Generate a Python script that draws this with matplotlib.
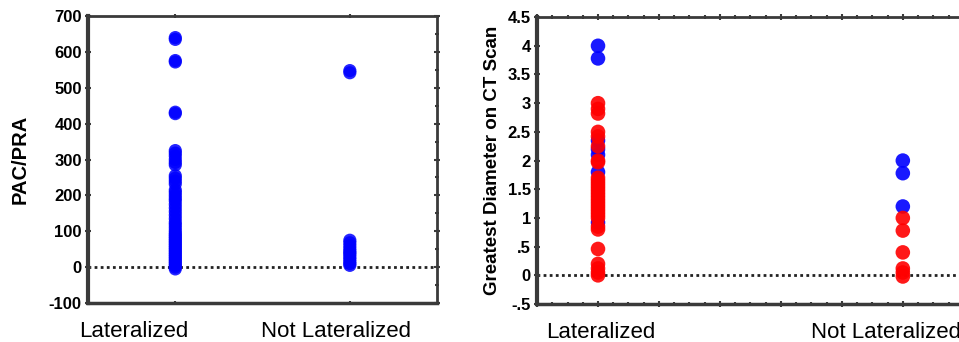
import numpy as np
import matplotlib
matplotlib.use("Agg")
import matplotlib.pyplot as plt
from matplotlib.ticker import MultipleLocator, FixedLocator, FixedFormatter
from matplotlib.transforms import offset_copy

plt.rcParams['font.family'] = ['Liberation Sans', 'DejaVu Sans']
plt.rcParams['axes.unicode_minus'] = False

categories = ["Lateralized", "Not Lateralized"]

# left panel: PAC/PRA
pac_lat = [640, 635, 576, 572, 432, 428, 325, 318, 310, 300, 292, 285, 255, 248, 240, 232,
           215, 208, 200, 192, 185, 175, 165, 155, 145, 135, 125, 118, 110, 102, 95, 90,
           85, 80, 75, 70, 65, 60, 55, 50, 45, 40, 35, 30, 25, 20, 15, 10, 5, 0, -5]
pac_notlat = [548, 542, 75, 68, 60, 52, 45, 40, 35, 28, 22, 15, 10, 5]

# right panel: greatest diameter, blue and red groups
diam_lat_blue = [4.0, 3.78, 2.35, 2.2, 2.1, 1.8, 0.92]
diam_lat_red = [3.0, 2.9, 2.82, 2.5, 2.42, 2.25, 2.0, 1.97, 1.7, 1.65, 1.6, 1.55, 1.5,
                1.45, 1.4, 1.35, 1.3, 1.25, 1.2, 1.15, 1.1, 1.05, 1.0, 0.85, 0.8, 0.46,
                0.2, 0.12, 0.05, 0.0]
diam_notlat_blue = [2.0, 1.78, 1.2]
diam_notlat_red = [1.0, 0.78, 0.4, 0.12, 0.05, -0.02]

right_ticks = [-0.5, 0, 0.5, 1, 1.5, 2, 2.5, 3, 3.5, 4, 4.5]
right_ticklabels = ["-.5", "0", ".5", "1", "1.5", "2", "2.5", "3", "3.5", "4", "4.5"]

BLUE = "#0000ff"
RED = "#ff0000"
SPINE = "#3a3a3a"

fig = plt.figure(figsize=(9.59, 3.42), dpi=100)
ax1 = fig.add_axes([0.0918, 0.114, 0.364, 0.839])
ax2 = fig.add_axes([0.560, 0.111, 0.445, 0.839])


def style_axes(ax):
    for side in ["left", "bottom", "top", "right"]:
        ax.spines[side].set_color(SPINE)
        ax.spines[side].set_linewidth(2)
    ax.spines["left"].set_linewidth(3)
    ax.spines["bottom"].set_linewidth(2.5)
    ax.tick_params(which="both", direction="inout", color=SPINE, width=1.5,
                   top=True, right=True, labeltop=False, labelright=False)
    ax.tick_params(which="major", length=5)
    ax.tick_params(which="minor", length=3)
    ax.tick_params(axis="y", labelsize=12, pad=2)
    for t in ax.get_yticklabels():
        t.set_fontweight("bold")
    ax.axhline(0, color="#222222", lw=2, ls=(0, (1, 1.2)), zorder=1)


# ---- left panel ----
ax1.scatter(np.full(len(pac_lat), 1), pac_lat, s=90, color=BLUE, alpha=0.85,
            edgecolors="none", zorder=3)
ax1.scatter(np.full(len(pac_notlat), 2), pac_notlat, s=90, color=BLUE, alpha=0.85,
            edgecolors="none", zorder=3)
ax1.set_xlim(0.5, 2.5)
ax1.set_ylim(-100, 700)
ax1.yaxis.set_major_locator(MultipleLocator(100))
ax1.yaxis.set_minor_locator(MultipleLocator(50))
ax1.set_xticks([1, 2])
ax1.set_xticklabels([])
ax1.tick_params(axis="y", which="minor", left=False)
style_axes(ax1)
ax1.tick_params(axis="x", length=3)
ax1.set_ylabel("PAC/PRA", fontsize=14.5, fontweight="bold", labelpad=14)
for lab, xc, dx in zip(categories, [1, 2], [-30, -10]):
    tr = offset_copy(ax1.get_xaxis_transform(), fig=fig, x=dx, y=0, units="points")
    ax1.text(xc, -0.1, lab, transform=tr, ha="center", va="center", fontsize=16)

# ---- right panel ----
ax2.scatter(np.full(len(diam_lat_blue), 1), diam_lat_blue, s=110, color=BLUE,
            alpha=0.9, edgecolors="none", zorder=3)
ax2.scatter(np.full(len(diam_notlat_blue), 2), diam_notlat_blue, s=110, color=BLUE,
            alpha=0.9, edgecolors="none", zorder=3)
ax2.scatter(np.full(len(diam_lat_red), 1), diam_lat_red, s=110, color=RED,
            alpha=0.9, edgecolors="none", zorder=4)
ax2.scatter(np.full(len(diam_notlat_red), 2), diam_notlat_red, s=110, color=RED,
            alpha=0.9, edgecolors="none", zorder=4)
ax2.set_xlim(0.8, 2.2)
ax2.set_ylim(-0.5, 4.5)
ax2.yaxis.set_major_locator(FixedLocator(right_ticks))
ax2.yaxis.set_major_formatter(FixedFormatter(right_ticklabels))
ax2.yaxis.set_minor_locator(MultipleLocator(0.25))
ax2.xaxis.set_major_locator(MultipleLocator(0.2))
ax2.xaxis.set_minor_locator(MultipleLocator(0.05))
ax2.xaxis.set_major_formatter(FixedFormatter([]))
style_axes(ax2)
ax2.set_ylabel("Greatest Diameter on CT Scan", fontsize=13.5, fontweight="bold",
               labelpad=5)
for lab, xc, dx in zip(categories, [1, 2], [2, -12]):
    tr = offset_copy(ax2.get_xaxis_transform(), fig=fig, x=dx, y=0, units="points")
    ax2.text(xc, -0.1, lab, transform=tr, ha="center", va="center", fontsize=16)

fig.savefig("out.png", dpi=100)
